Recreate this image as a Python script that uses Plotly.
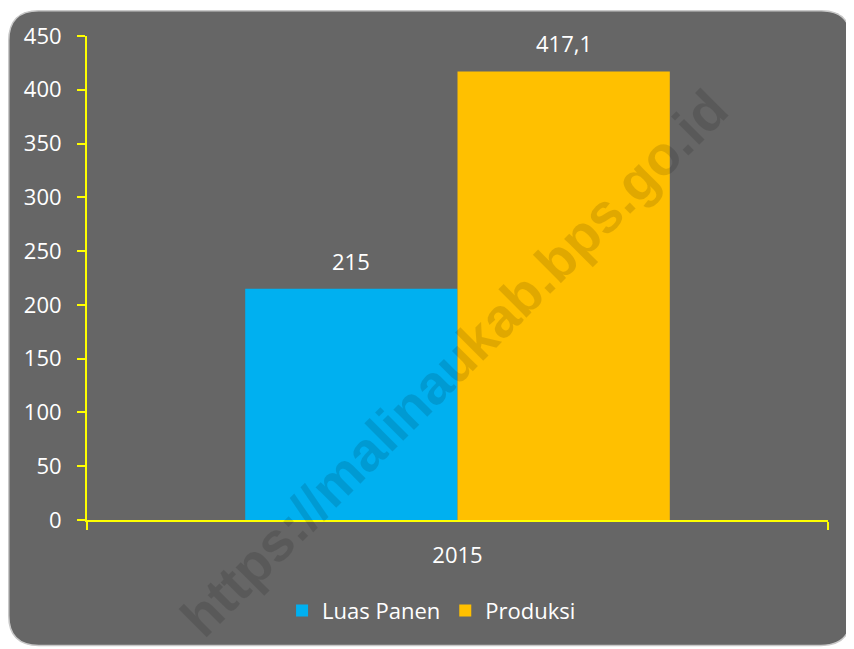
import plotly.graph_objects as go

categories = ["2015"]
luas_panen = [215]
produksi = [417.1]
series_names = ["Luas Panen", "Produksi"]
y_ticks = [0, 50, 100, 150, 200, 250, 300, 350, 400, 450]

# page has an 8px body margin; work in figure coordinates
OFF = 8
W, H = 846, 641
L, T = 87 - OFF, 34 - OFF
R = W - (828 - OFF)
B = H - (520 - OFF)
pw, ph = W - L - R, H - T - B

def px_to_paper(px, py):
    # px, py in page (reference) pixels
    return (px - OFF - L) / pw, (H - B - (py - OFF)) / ph

def fmt(v):
    return ("%g" % v).replace(".", ",")

FS = 22
BARGAP = 0.427
bw = (1 - BARGAP) / 2

fig = go.Figure()
for i, (name, vals, col) in enumerate([(series_names[0], luas_panen, "#00B0F0"),
                                        (series_names[1], produksi, "#FFC000")]):
    fig.add_trace(go.Bar(x=categories, y=vals, name=name,
                         marker=dict(color=col, line=dict(width=0))))
    for j, v in enumerate(vals):
        fig.add_annotation(x=j + (i - 0.5) * bw, y=v, text=fmt(v), showarrow=False,
                           xref="x", yref="y", yanchor="bottom", yshift=11,
                           font=dict(color="white", size=FS, family="Open Sans"))

# rounded background box
x0, y0 = px_to_paper(OFF + 0.75, 646)
x1, y1 = px_to_paper(851, OFF + 0.75)
r = 30
rx, ry = r / pw, r / ph
path = (f"M {x0+rx},{y1} L {x1-rx},{y1} Q {x1},{y1} {x1},{y1-ry} "
        f"L {x1},{y0+ry} Q {x1},{y0} {x1-rx},{y0} L {x0+rx},{y0} "
        f"Q {x0},{y0} {x0},{y0+ry} L {x0},{y1-ry} Q {x0},{y1} {x0+rx},{y1} Z")
fig.add_shape(type="path", path=path, xref="paper", yref="paper",
              fillcolor="#666666", line=dict(color="#c8c8c8", width=1.5), layer="below")

# watermark
wx, wy = px_to_paper(454, 362)
fig.add_annotation(text="<b>https://malinaukab.bps.go.id</b>", x=wx, y=wy,
                   xref="paper", yref="paper", showarrow=False, textangle=-45,
                   xanchor="center", yanchor="middle",
                   font=dict(family="Arial", size=55, color="rgba(0,0,0,0.12)"))

fig.update_layout(
    width=W, height=H,
    margin=dict(l=L, r=R, t=T, b=B),
    paper_bgcolor="white", plot_bgcolor="rgba(0,0,0,0)",
    font=dict(family="Open Sans", color="white", size=FS),
    barmode="group", bargap=BARGAP, bargroupgap=0,
    showlegend=True,
    legend=dict(orientation="h", x=0.465, xanchor="center", y=px_to_paper(0, 611)[1],
                yanchor="middle", font=dict(size=FS, color="white"),
                bgcolor="rgba(0,0,0,0)", itemwidth=30),
    xaxis=dict(showline=True, linecolor="#FFFF00", linewidth=2, ticks="outside",
               tickson="boundaries", tickcolor="#FFFF00", tickwidth=2, ticklen=8,
               tickfont=dict(color="white", size=FS), showgrid=False, zeroline=False,
               ticklabelstandoff=15),
    yaxis=dict(range=[0, 450], tickvals=y_ticks, showline=True, linecolor="#FFFF00",
               linewidth=2, ticks="outside", tickcolor="#FFFF00", tickwidth=2, ticklen=8,
               tickfont=dict(color="white", size=FS), showgrid=False, zeroline=False,
               ticklabelstandoff=11),
)

fig.write_html("out.html")
